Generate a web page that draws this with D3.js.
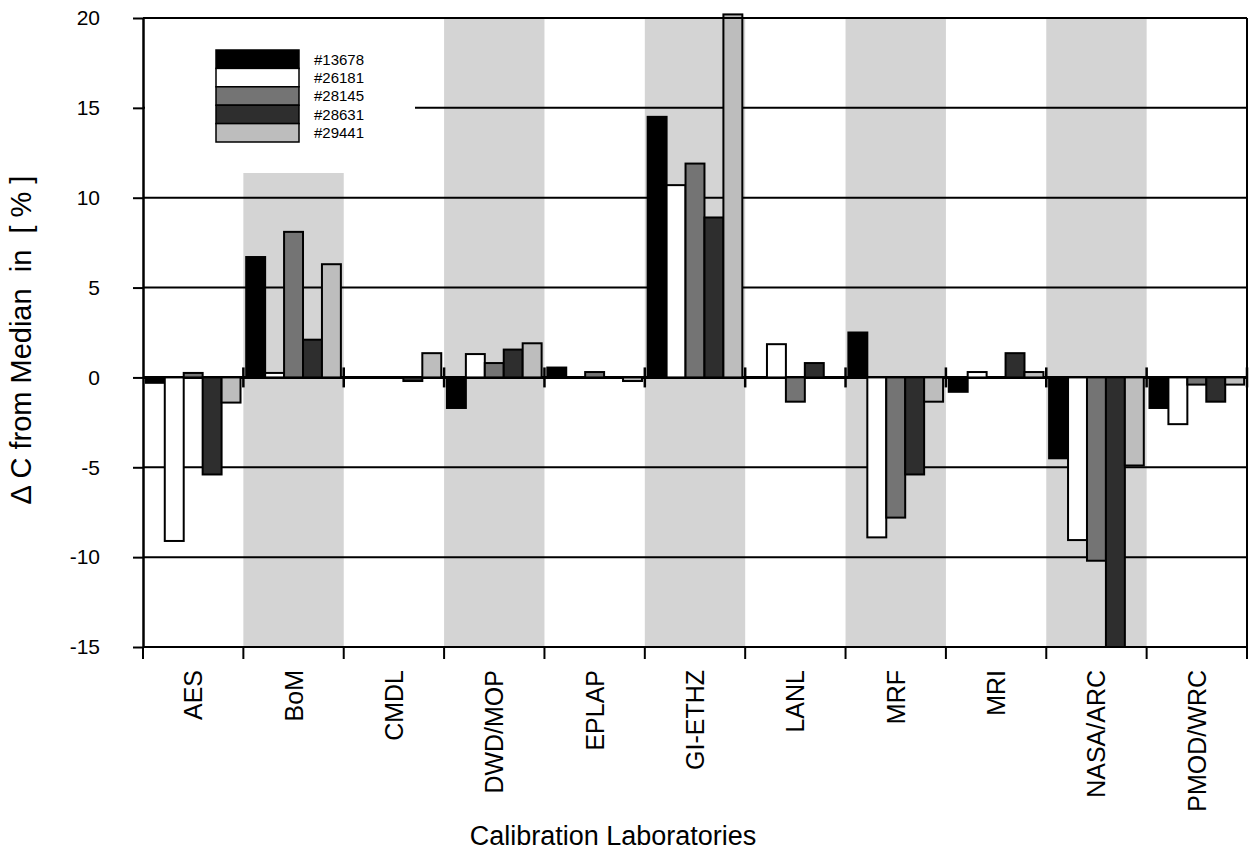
<!DOCTYPE html>
<html>
<head>
<meta charset="utf-8">
<script src="https://cdn.jsdelivr.net/npm/d3@7"></script>
<style>
  body { margin: 0; background: #fff; }
  svg { display: block; font-family: "Liberation Sans", Arial, sans-serif; }
</style>
</head>
<body>
<div class="chart"></div>
<script>
// calibration labs along the x axis
var labs = ["AES", "BoM", "CMDL", "DWD/MOP", "EPLAP", "GI-ETHZ", "LANL", "MRF", "MRI", "NASA/ARC", "PMOD/WRC"];
var instruments = ["#13678", "#26181", "#28145", "#28631", "#29441"];

// Delta C from median [%], one value per lab
var v13678 = [-0.3, 6.7, 0, -1.7, 0.55, 14.5, 0, 2.5, -0.8, -4.5, -1.7];
var v26181 = [-9.1, 0.25, 0, 1.3, 0, 10.7, 1.85, -8.9, 0.3, -9.05, -2.6];
var v28145 = [0.25, 8.1, 0, 0.8, 0.3, 11.9, -1.35, -7.8, 0, -10.2, -0.4];
var v28631 = [-5.4, 2.1, -0.2, 1.55, 0, 8.9, 0.8, -5.4, 1.35, -15, -1.35];
var v29441 = [-1.4, 6.3, 1.35, 1.9, -0.2, 20.2, 0, -1.35, 0.3, -4.9, -0.4];

var yTicks = [-15, -10, -5, 0, 5, 10, 15, 20];
var shadedLabs = ["BoM", "DWD/MOP", "GI-ETHZ", "MRF", "NASA/ARC"];

var seriesValues = [v13678, v26181, v28145, v28631, v29441];
var fills = ["#000000", "#ffffff", "#747474", "#2e2e2e", "#bdbdbd"];

var width = 1249;
var height = 857;
// note: "top" is taken by window.top, so prefix everything
var plotLeft = 143, plotRight = 1247, plotTop = 18, plotBottom = 647;

var svg = d3.select(".chart").append("svg")
  .attr("width", width)
  .attr("height", height);

var x = d3.scaleBand()
  .domain(labs)
  .range([plotLeft, plotRight]);

var xInner = d3.scaleBand()
  .domain(instruments)
  .range([0, x.bandwidth()])
  .paddingOuter(0.15);

var y = d3.scaleLinear()
  .domain([-15, 20])
  .range([plotBottom, plotTop]);

// grey bands behind every second lab
svg.append("g").selectAll("rect")
  .data(shadedLabs)
  .enter().append("rect")
  .attr("x", function(d) { return x(d); })
  .attr("y", plotTop)
  .attr("width", x.bandwidth())
  .attr("height", plotBottom - plotTop)
  .attr("fill", "#d4d4d4");

// horizontal grid
svg.append("g").selectAll("line")
  .data(yTicks)
  .enter().append("line")
  .attr("x1", plotLeft)
  .attr("x2", plotRight)
  .attr("y1", function(d) { return y(d); })
  .attr("y2", function(d) { return y(d); })
  .attr("stroke", "#000")
  .attr("stroke-width", function(d) { return d === 0 ? 3 : 2; });

// legend sits on a white box that hides the grid
svg.append("rect")
  .attr("x", plotLeft + 2)
  .attr("y", plotTop + 1)
  .attr("width", 415 - plotLeft - 2)
  .attr("height", 173 - plotTop - 1)
  .attr("fill", "#fff");

var rows = [];
labs.forEach(function(lab, i) {
  instruments.forEach(function(s, j) {
    if (seriesValues[j][i] !== 0) rows.push({ lab: lab, s: s, j: j, v: seriesValues[j][i] });
  });
});

svg.append("g").selectAll("rect")
  .data(rows)
  .enter().append("rect")
  .attr("x", function(d) { return x(d.lab) + xInner(d.s); })
  .attr("y", function(d) { return y(Math.max(0, d.v)); })
  .attr("width", xInner.bandwidth())
  .attr("height", function(d) { return Math.abs(y(d.v) - y(0)); })
  .attr("fill", function(d) { return fills[d.j]; })
  .attr("stroke", "#000")
  .attr("stroke-width", 2);

// frame: top line, right border
svg.append("line")
  .attr("x1", plotLeft).attr("x2", plotRight)
  .attr("y1", y(20)).attr("y2", y(20))
  .attr("stroke", "#000").attr("stroke-width", 2);
svg.append("line")
  .attr("x1", plotRight).attr("x2", plotRight)
  .attr("y1", plotTop).attr("y2", plotBottom)
  .attr("stroke", "#000").attr("stroke-width", 2);

// y axis (plain hyphen for negatives, like the original)
var yAxis = svg.append("g")
  .attr("transform", "translate(" + plotLeft + ",0)")
  .call(d3.axisLeft(y)
    .tickValues(yTicks)
    .tickFormat(function(d) { return String(d); })
    .tickSize(10).tickSizeOuter(0).tickPadding(33));
yAxis.select(".domain").attr("stroke-width", 2.5);
yAxis.selectAll(".tick line").attr("stroke-width", 2);
yAxis.selectAll("text")
  .attr("font-size", "21px")
  .attr("font-family", "\"Liberation Sans\", Arial, sans-serif")
  .attr("fill", "#000");

// boundary ticks on the zero line and below the bottom line
var bounds = labs.map(function(d) { return x(d); }).concat([plotRight]);
svg.append("g").selectAll("line")
  .data(bounds.slice(1))
  .enter().append("line")
  .attr("x1", function(d) { return d; })
  .attr("x2", function(d) { return d; })
  .attr("y1", y(0) - 10)
  .attr("y2", y(0) + 10)
  .attr("stroke", "#000")
  .attr("stroke-width", 2.5);
svg.append("g").selectAll("line")
  .data(bounds)
  .enter().append("line")
  .attr("x1", function(d) { return d; })
  .attr("x2", function(d) { return d; })
  .attr("y1", plotBottom)
  .attr("y2", plotBottom + 12)
  .attr("stroke", "#000")
  .attr("stroke-width", 2);

// lab names, rotated
var xAxis = svg.append("g")
  .attr("transform", "translate(0," + plotBottom + ")")
  .call(d3.axisBottom(x).tickSize(0));
xAxis.select(".domain").remove();
xAxis.selectAll("text")
  .attr("transform", "rotate(-90)")
  .attr("text-anchor", "end")
  .attr("x", -23)
  .attr("y", 0)
  .attr("dy", "0.36em")
  .attr("font-size", "25px")
  .attr("font-family", "\"Liberation Sans\", Arial, sans-serif")
  .attr("fill", "#000");

// legend
var legend = svg.append("g").selectAll("g")
  .data(instruments)
  .enter().append("g")
  .attr("transform", function(d, i) { return "translate(216," + (50 + i * 18.4) + ")"; });
legend.append("rect")
  .attr("width", 83)
  .attr("height", 18.4)
  .attr("fill", function(d, i) { return fills[i]; })
  .attr("stroke", "#000")
  .attr("stroke-width", 1.5);
legend.append("text")
  .attr("x", 98)
  .attr("y", 9.2)
  .attr("dy", "0.36em")
  .attr("font-size", "15px")
  .text(function(d) { return d; });

// axis titles
svg.append("text")
  .attr("transform", "translate(31,340) rotate(-90)")
  .attr("text-anchor", "middle")
  .attr("font-size", "29px")
  .style("white-space", "pre")
  .text("\u0394 C from Median  in  [ % ]");

svg.append("text")
  .attr("x", 613)
  .attr("y", 845)
  .attr("text-anchor", "middle")
  .attr("font-size", "27px")
  .text("Calibration Laboratories");
</script>
</body>
</html>
